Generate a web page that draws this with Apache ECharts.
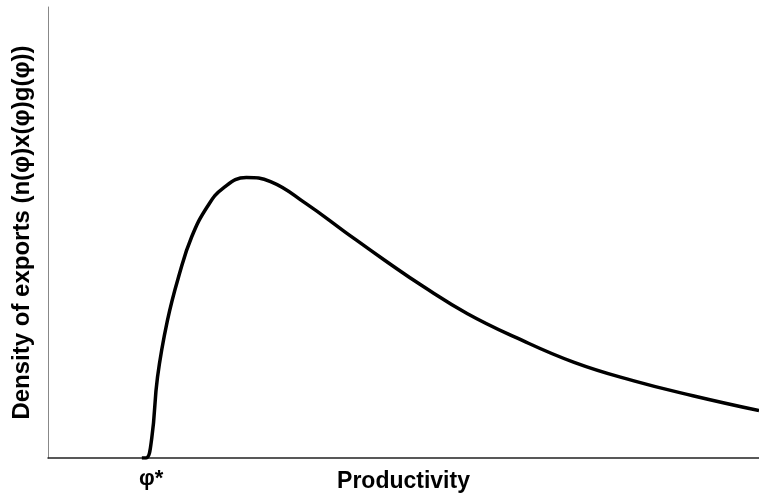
<!DOCTYPE html>
<html>
<head>
<meta charset="utf-8">
<script src="https://cdn.jsdelivr.net/npm/echarts@6/dist/echarts.min.js"></script>
<style>
  html, body { margin: 0; padding: 0; background: #fff; }
  #chart { width: 759px; height: 496px; }
</style>
</head>
<body>
<div id="chart"></div>
<script>
// productivity (0-100 scale) and export density
const productivity = [13.2, 13.8, 14.6, 15.4, 16.8, 18.5, 20.2, 22.4, 24.6, 27.9, 31.3, 36.3, 41.8, 47.4, 52.9, 59.0, 65.7, 74.0, 82.4, 90.7, 100]
const density = [0, 0, 4.5, 17.9, 30.5, 40.9, 49.0, 55.7, 59.8, 62.2, 61.3, 56.4, 50.1, 43.8, 37.9, 32.0, 26.8, 21.2, 17.1, 13.8, 10.5]
const phiStar = 14.5
const xTickLabels = ['φ*']

const font = '"Liberation Sans", Arial, sans-serif'

const chart = echarts.init(document.getElementById('chart'))

chart.setOption({
  animation: false,
  grid: {
    left: 48,
    right: 0,
    top: 7,
    bottom: 38,
    outerBoundsMode: 'none'
  },
  xAxis: {
    type: 'value',
    min: 0,
    max: 100,
    name: 'Productivity',
    nameLocation: 'middle',
    nameGap: 12,
    nameMoveOverlap: false,
    nameTextStyle: {
      fontFamily: font,
      fontWeight: 'bold',
      fontSize: 23,
      color: '#000'
    },
    axisLine: {
      lineStyle: { color: '#222', width: 1.5 }
    },
    axisTick: { show: false },
    splitLine: { show: false },
    axisLabel: {
      customValues: [phiStar],
      formatter: () => xTickLabels[0],
      margin: 10,
      fontFamily: font,
      fontWeight: 'bold',
      fontSize: 22,
      color: '#000'
    }
  },
  yAxis: {
    type: 'value',
    min: 0,
    max: 100,
    name: 'Density of exports (n(φ)x(φ)g(φ))',
    nameLocation: 'middle',
    nameGap: 14,
    nameMoveOverlap: false,
    nameTextStyle: {
      fontFamily: font,
      fontWeight: 'bold',
      fontSize: 24,
      color: '#000'
    },
    axisLine: {
      show: true,
      lineStyle: { color: '#888', width: 1 }
    },
    axisTick: { show: false },
    axisLabel: { show: false },
    splitLine: { show: false }
  },
  series: [{
    type: 'line',
    data: productivity.map((x, i) => [x, density[i]]),
    smooth: 0.45,
    symbol: 'none',
    lineStyle: { color: '#000', width: 3.5 }
  }]
})
</script>
</body>
</html>
